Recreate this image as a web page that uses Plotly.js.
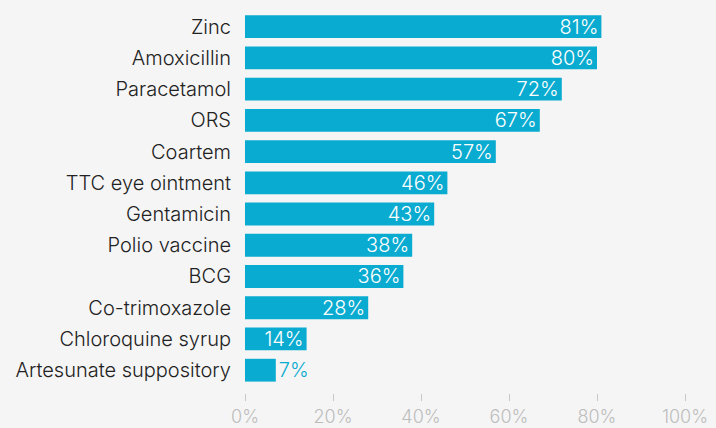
<!DOCTYPE html>
<html>
<head>
<meta charset="utf-8">
<script src="https://cdn.plot.ly/plotly-3.0.1.min.js"></script>
<style>html,body{margin:0;padding:0;background:#f5f5f5;}#chart{width:716px;height:428px;}</style>
</head>
<body>
<div id="chart"></div>
<script>
const categories = ["Zinc","Amoxicillin","Paracetamol","ORS","Coartem","TTC eye ointment","Gentamicin","Polio vaccine","BCG","Co-trimoxazole","Chloroquine syrup","Artesunate suppository"];
const values = [81,80,72,67,57,46,43,38,36,28,14,7];
const tickVals = [0,20,40,60,80,100];
const tickText = ["0%","20%","40%","60%","80%","100%"];

const barColor = "#0aabd0";
const fam = "Inter, sans-serif";
const trace = {
  type: "bar",
  orientation: "h",
  x: values,
  y: categories,
  marker: {color: barColor},
  text: values.map(v => v + "%"),
  textposition: values.map(v => v < 10 ? "outside" : "inside"),
  insidetextanchor: "end",
  constraintext: "none",
  cliponaxis: false,
  insidetextfont: {color: "#ffffff", size: 20, family: fam, weight: 300},
  outsidetextfont: {color: barColor, size: 20, family: fam, weight: 300},
  hoverinfo: "none"
};
const layout = {
  width: 716, height: 428,
  paper_bgcolor: "#f5f5f5", plot_bgcolor: "#f5f5f5",
  margin: {l: 245, r: 31, t: 11, b: 35},
  bargap: 0.27,
  showlegend: false,
  font: {family: fam, size: 20, color: "#222222", weight: 300},
  xaxis: {
    range: [0, 100], tickvals: tickVals, ticktext: tickText,
    showgrid: false, zeroline: false, showline: false,
    ticks: "outside", ticklen: 7, tickcolor: "#c8c8c8", tickwidth: 1,
    tickfont: {color: "#bdbdbd", size: 18, family: fam, weight: 300}
  },
  yaxis: {
    type: "category",
    range: [11.73, -0.5],
    showgrid: false, zeroline: false, showline: false,
    ticks: "", ticklabelstandoff: 13,
    tickfont: {color: "#222222", size: 20, family: fam, weight: 300}
  }
};
Plotly.newPlot("chart", [trace], layout, {displayModeBar: false, staticPlot: true});
</script>
</body>
</html>
